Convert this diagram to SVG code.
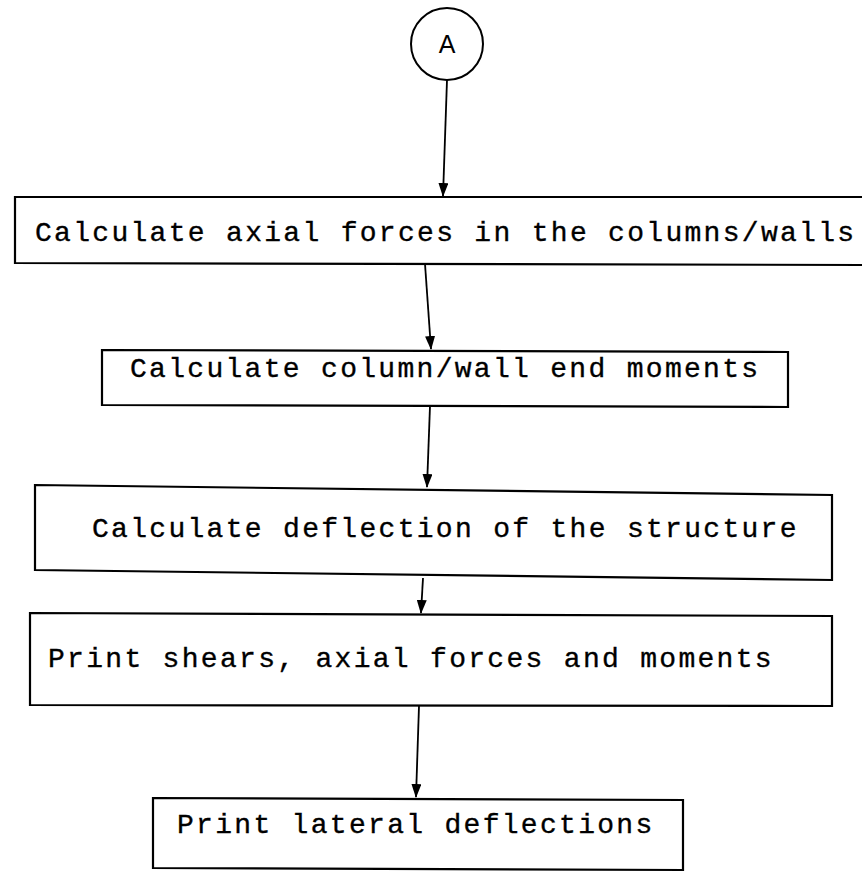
<svg xmlns="http://www.w3.org/2000/svg" width="862" height="888" viewBox="0 0 862 888">
<defs>
<marker id="ah" markerWidth="14" markerHeight="10" refX="13" refY="5" orient="auto" markerUnits="userSpaceOnUse" viewBox="0 0 14 10">
<path d="M0,0 L14,5 L0,10 Z" fill="#000"/>
</marker>
</defs>
<style>
.box{fill:#fff;stroke:#000;stroke-width:2.2}
.lbl{font-family:"Liberation Mono","DejaVu Sans Mono",monospace;font-size:28px;letter-spacing:2.3px;fill:#000;stroke:#000;stroke-width:0.35}
.conn{stroke:#000;stroke-width:1.8;fill:none}
</style>
<rect width="862" height="888" fill="#fff"/>
<g id="connA">
<circle cx="447" cy="44" r="36" fill="#fff" stroke="#000" stroke-width="2"/>
<text x="447" y="53" text-anchor="middle" font-family="Liberation Sans, Arial, sans-serif" font-size="25" fill="#000">A</text>
</g>
<g id="connectors">
<line class="conn" x1="447" y1="80" x2="443" y2="196" marker-end="url(#ah)"/>
<line class="conn" x1="425" y1="264" x2="431" y2="349" marker-end="url(#ah)"/>
<line class="conn" x1="430" y1="406" x2="427" y2="487" marker-end="url(#ah)"/>
<line class="conn" x1="423" y1="578" x2="421" y2="613" marker-end="url(#ah)"/>
<line class="conn" x1="419" y1="706" x2="416" y2="797" marker-end="url(#ah)"/>
</g>
<g id="node1">
<polygon class="box" points="15,197 870,197 870,265 15,263"/>
<text class="lbl" x="35" y="241">Calculate axial forces in the columns/walls</text>
</g>
<g id="node2">
<polygon class="box" points="102,350 788,352 788,407 102,405"/>
<text class="lbl" x="130" y="377">Calculate column/wall end moments</text>
</g>
<g id="node3">
<polygon class="box" points="35,485 832,495 832,580 35,570"/>
<text class="lbl" x="92" y="537">Calculate deflection of the structure</text>
</g>
<g id="node4">
<polygon class="box" points="30,613 832,616 832,706 30,705"/>
<text class="lbl" x="48" y="667">Print shears, axial forces and moments</text>
</g>
<g id="node5">
<polygon class="box" points="153,798 683,800 683,870 153,868"/>
<text class="lbl" x="177" y="833">Print lateral deflections</text>
</g>
</svg>
